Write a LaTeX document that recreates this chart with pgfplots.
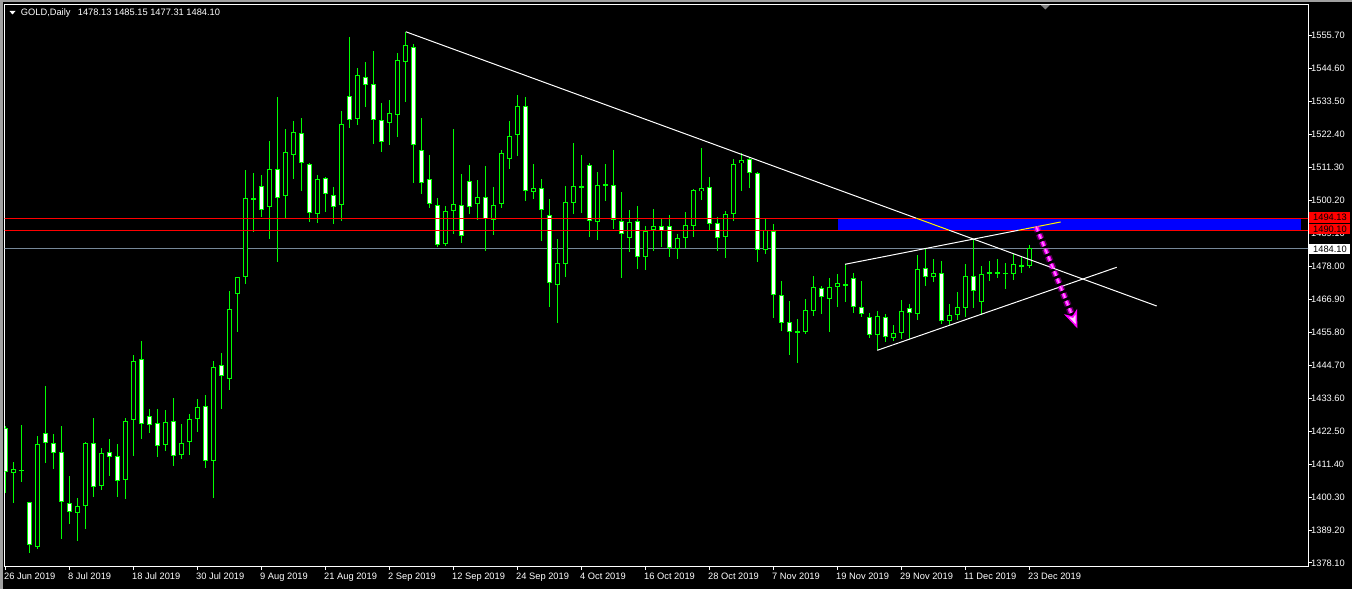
\documentclass[border=0pt]{standalone}
\usepackage{pgfplots}
\pgfplotsset{compat=1.18}
\usepackage{pgfplotstable}
\usepackage{fontspec}
\setmainfont{Liberation Sans}
\usetikzlibrary{arrows.meta}
\definecolor{cand}{HTML}{00FF00}
\definecolor{bidgray}{HTML}{778899}
\definecolor{mtmag}{HTML}{FF00FF}
\definecolor{mtblue}{HTML}{0000FF}
\definecolor{mtred}{HTML}{FF0000}
\definecolor{winborder}{HTML}{A0A0A0}

\pgfplotstableread{
i o h l c
0 1423.42 1424.21 1401.54 1408.83
1 1408.27 1412.09 1398.40 1409.62
2 1409.28 1424.54 1405.47 1409.28
3 1398.51 1398.74 1381.57 1384.04
4 1383.37 1420.84 1382.80 1418.04
5 1421.74 1437.67 1411.86 1418.37
6 1418.37 1421.51 1409.84 1415.01
7 1415.34 1424.21 1386.28 1398.51
8 1398.18 1407.38 1391.33 1395.15
9 1394.81 1399.97 1385.61 1397.17
10 1397.17 1418.82 1389.65 1418.37
11 1418.37 1426.90 1400.42 1403.56
12 1403.90 1416.80 1402.78 1415.01
13 1415.34 1419.83 1407.49 1413.66
14 1414.00 1418.15 1400.42 1405.58
15 1405.92 1426.90 1399.75 1425.78
16 1426.11 1448.10 1414.11 1445.97
17 1446.65 1452.82 1419.94 1424.77
18 1427.46 1429.93 1421.96 1424.43
19 1425.10 1429.93 1413.88 1417.36
20 1417.70 1429.59 1415.90 1425.44
21 1425.78 1433.63 1410.85 1414.00
22 1414.33 1424.88 1413.21 1418.37
23 1418.71 1428.25 1414.56 1426.45
24 1426.45 1433.29 1422.08 1430.49
25 1430.83 1434.64 1410.18 1412.31
26 1412.31 1445.97 1400.08 1443.95
27 1444.63 1448.78 1430.04 1440.92
28 1439.91 1469.53 1436.44 1463.47
29 1468.52 1474.47 1455.96 1474.25
30 1474.25 1510.37 1472.11 1500.84
31 1500.73 1509.36 1489.62 1500.73
32 1504.88 1508.69 1494.67 1496.80
33 1497.81 1520.14 1487.26 1510.60
34 1510.60 1534.95 1479.52 1500.84
35 1501.51 1524.17 1494.33 1516.32
36 1515.31 1526.87 1507.46 1523.05
37 1522.72 1527.88 1503.42 1512.62
38 1512.28 1512.62 1492.98 1495.79
39 1495.45 1508.58 1492.65 1507.23
40 1507.57 1507.91 1496.35 1502.18
41 1501.85 1504.54 1492.31 1497.81
42 1498.48 1530.12 1493.32 1525.75
43 1535.17 1555.14 1524.62 1527.09
44 1527.43 1544.71 1525.41 1542.24
45 1541.57 1546.73 1531.69 1538.87
46 1539.21 1550.43 1519.24 1527.09
47 1527.09 1532.93 1516.55 1519.69
48 1526.08 1533.94 1518.90 1529.45
49 1528.78 1549.76 1521.37 1547.40
50 1546.62 1556.90 1533.38 1552.40
51 1551.67 1552.79 1506.11 1518.68
52 1517.00 1527.77 1502.41 1505.89
53 1507.46 1515.31 1497.47 1498.82
54 1498.48 1500.84 1484.35 1485.02
55 1485.36 1498.15 1484.91 1496.46
56 1496.46 1524.18 1488.95 1498.82
57 1498.48 1509.03 1485.69 1488.05
58 1506.56 1512.06 1495.68 1497.81
59 1498.82 1507.01 1493.43 1501.18
60 1501.18 1511.72 1483.00 1493.77
61 1493.43 1504.54 1488.61 1498.48
62 1498.82 1517.00 1497.70 1515.99
63 1513.97 1526.87 1510.60 1521.71
64 1522.05 1535.62 1515.20 1531.81
65 1531.81 1534.95 1500.06 1503.20
66 1502.86 1512.28 1500.50 1504.21
67 1504.21 1507.23 1486.59 1496.80
68 1495.12 1500.50 1464.15 1472.23
69 1471.55 1487.04 1458.76 1478.96
70 1478.62 1504.88 1474.25 1499.49
71 1499.16 1519.35 1495.45 1504.88
72 1504.88 1515.31 1495.79 1504.21
73 1511.95 1512.62 1487.71 1493.10
74 1492.76 1509.59 1486.70 1505.21
75 1504.88 1512.28 1499.83 1505.55
76 1505.21 1517.00 1490.63 1493.43
77 1493.10 1502.86 1473.91 1488.72
78 1487.38 1496.80 1482.66 1492.76
79 1493.10 1498.15 1476.94 1480.98
80 1480.98 1491.41 1476.83 1489.73
81 1490.07 1497.25 1483.22 1491.64
82 1491.41 1493.88 1484.57 1489.73
83 1491.41 1495.23 1481.20 1484.01
84 1483.67 1488.83 1480.53 1487.38
85 1487.38 1496.13 1484.01 1491.75
86 1491.64 1503.87 1487.71 1503.53
87 1503.20 1517.78 1500.39 1504.21
88 1504.54 1507.91 1489.73 1492.09
89 1492.42 1494.44 1483.22 1487.38
90 1487.71 1496.46 1480.87 1495.45
91 1495.45 1513.97 1493.10 1512.28
92 1512.62 1515.99 1503.20 1513.63
93 1513.97 1514.64 1504.21 1509.25
94 1509.25 1509.59 1479.30 1483.33
95 1483.33 1493.77 1481.99 1490.07
96 1489.73 1492.09 1460.45 1468.19
97 1468.19 1472.90 1456.07 1458.76
98 1459.10 1466.17 1447.99 1455.73
99 1455.96 1460.11 1445.30 1455.96
100 1455.73 1466.84 1455.06 1463.14
101 1462.80 1474.70 1461.12 1470.88
102 1470.55 1471.22 1462.02 1467.52
103 1466.84 1473.91 1455.96 1470.88
104 1470.88 1475.37 1464.38 1472.23
105 1471.89 1478.63 1465.84 1471.22
106 1473.91 1475.59 1462.13 1464.15
107 1464.15 1472.90 1460.79 1461.80
108 1460.79 1462.13 1453.72 1454.73
109 1454.73 1462.81 1449.68 1461.12
110 1460.79 1461.80 1452.37 1454.05
111 1453.72 1458.09 1452.71 1455.40
112 1455.40 1466.51 1453.38 1462.81
113 1463.82 1465.16 1453.38 1462.13
114 1461.80 1481.66 1459.78 1476.94
115 1477.28 1484.01 1471.22 1474.25
116 1474.25 1480.31 1472.57 1475.59
117 1475.59 1479.64 1458.43 1459.44
118 1459.44 1465.16 1458.09 1461.46
119 1461.46 1469.20 1459.78 1464.15
120 1463.82 1478.63 1460.79 1474.59
121 1474.59 1487.04 1463.82 1469.54
122 1465.84 1477.95 1461.46 1475.26
123 1475.26 1479.64 1472.90 1475.93
124 1475.59 1480.31 1473.91 1475.93
125 1475.59 1478.96 1470.21 1475.59
126 1475.26 1481.99 1473.24 1478.63
127 1478.29 1480.98 1475.59 1477.62
128 1478.13 1485.15 1477.31 1484.10
}\gold

\pgfplotsset{candle/.style={only marks, mark=*, mark size=0pt, mark options={draw=none, fill=none, opacity=0},
  error bars/.cd, y dir=both, y explicit, error mark=none}}

\begin{document}
\begin{tikzpicture}
\fill[black] (0bp,0bp) rectangle (1352bp,589bp);
\useasboundingbox (0bp,0bp) rectangle (1352bp,589bp);
\fill[winborder] (0bp,0bp) rectangle (2.5bp,589bp);
\fill[winborder] (0bp,587bp) rectangle (1352bp,589bp);
\begin{axis}[
  at={(4.5bp,23bp)}, anchor=south west,
  scale only axis, width=1303.5bp, height=561.7bp,
  xmin=-0.0625, xmax=162.875, ymin=1377.09, ymax=1566.15,
  axis line style={white, line width=1bp},
  tick style={white, line width=1bp},
  tick align=outside, major tick length=4bp,
  minor tick num=0,
  xtick={0,8,...,128},
  xticklabels={26 Jun 2019, 8 Jul 2019, 18 Jul 2019, 30 Jul 2019, 9 Aug 2019, 21 Aug 2019, 2 Sep 2019, 12 Sep 2019, 24 Sep 2019, 4 Oct 2019, 16 Oct 2019, 28 Oct 2019, 7 Nov 2019, 19 Nov 2019, 29 Nov 2019, 11 Dec 2019, 23 Dec 2019},
  ytick={1378.1,1389.2,1400.3,1411.4,1422.5,1433.6,1444.7,1455.8,1466.9,1478.0,1489.1,1500.2,1511.3,1522.4,1533.5,1544.6,1555.7},
  yticklabels={1378.10,1389.20,1400.30,1411.40,1422.50,1433.60,1444.70,1455.80,1466.90,1478.00,1489.10,1500.20,1511.30,1522.40,1533.50,1544.60,1555.70},
  xtick pos=left, ytick pos=right,
  xticklabel pos=left, yticklabel pos=right,
  ticklabel style={font=\fontsize{9.3bp}{10bp}\selectfont, text=white, inner sep=0pt},
  xticklabel style={anchor=north west, xshift=-1bp, yshift=-3bp},
  yticklabel style={anchor=west, xshift=-1bp},
  clip=true,
]
% blue zone
\addplot [fill=mtblue, draw=none] coordinates {(104.125,1490.10) (162,1490.10) (162,1494.13) (104.125,1494.13)} -- cycle;
% bid line
\addplot [bidgray, line width=1bp] coordinates {(-1,1484.10) (170,1484.10)};
% wicks
\addplot [candle, error bar style={draw=cand, line width=1bp}]
  table [x=i, y expr={(\thisrow{h}+\thisrow{l})/2}, y error expr={(\thisrow{h}-\thisrow{l})/2}] {\gold};
% bodies outer
\addplot [candle, error bar style={draw=cand, line width=5bp}]
  table [x=i, y expr={(\thisrow{o}+\thisrow{c})/2}, y error expr={max(abs(\thisrow{o}-\thisrow{c})/2,0.17)}] {\gold};
% bearish inner (white)
\addplot [candle, error bar style={draw=white, line width=3bp}]
  table [x expr={(\thisrow{o}-\thisrow{c}>0.7) ? \thisrow{i} : -100}, y expr={(\thisrow{o}+\thisrow{c})/2}, y error expr={max(abs(\thisrow{o}-\thisrow{c})/2-0.337,0.01)}] {\gold};
% bullish inner (black)
\addplot [candle, error bar style={draw=black, line width=3bp}]
  table [x expr={(\thisrow{c}-\thisrow{o}>0.7) ? \thisrow{i} : -100}, y expr={(\thisrow{o}+\thisrow{c})/2}, y error expr={max(abs(\thisrow{o}-\thisrow{c})/2-0.337,0.01)}] {\gold};
% red levels
\addplot [mtred, line width=1bp] coordinates {(-1,1494.13) (170,1494.13)};
\addplot [mtred, line width=1bp] coordinates {(-1,1490.10) (170,1490.10)};
% trend lines
\addplot [white, line width=1bp] coordinates {(50.1,1556.9) (113.93,1494.13)};
\addplot [yellow, line width=1bp] coordinates {(113.93,1494.13) (118.03,1490.10)};
\addplot [white, line width=1bp] coordinates {(118.03,1490.10) (143.96,1464.6)};
\addplot [white, line width=1bp] coordinates {(105,1478.64) (126.70,1490.10)};
\addplot [yellow, line width=1bp] coordinates {(126.70,1490.10) (131.96,1492.88)};
\addplot [white, line width=1bp] coordinates {(109.04,1449.69) (138.96,1477.63)};
% arrow
\addplot [mtmag, opacity=0.3, line width=7bp, dash pattern=on 5bp off 3bp] coordinates {(128.9,1491.29) (133.29,1462.09)};
\addplot [mtmag, line width=4bp, dash pattern=on 5bp off 3bp, -{Stealth[length=18bp, width=14bp, inset=5bp, fill=white!80!mtmag, color=mtmag, line width=1.5bp]}] coordinates {(128.9,1491.29) (134.04,1457.1)};
\addplot [white!55!mtmag, line width=1.3bp, dash pattern=on 5bp off 3bp] coordinates {(128.9,1491.29) (133.29,1462.09)};
\end{axis}
% price boxes
\fill[mtred] (1309bp,366.3bp) rectangle (1350bp,376.7bp);
\fill[mtred] (1309bp,354.7bp) rectangle (1350bp,365bp);
\fill[white] (1309bp,335.3bp) rectangle (1350bp,344.7bp);
\node[anchor=west, inner sep=0pt, text=black, font=\fontsize{9.3bp}{10bp}\selectfont] at (1313bp,371.5bp) {1494.13};
\node[anchor=west, inner sep=0pt, text=black, font=\fontsize{9.3bp}{10bp}\selectfont] at (1313bp,359.8bp) {1490.10};
\node[anchor=west, inner sep=0pt, text=black, font=\fontsize{9.3bp}{10bp}\selectfont] at (1313bp,340bp) {1484.10};
% header
\fill[white] (9.5bp,578bp) -- (15.5bp,578bp) -- (12.5bp,574.5bp) -- cycle;
\node[anchor=base west, inner sep=0pt, text=white, font=\fontsize{9.3bp}{10bp}\selectfont] at (20.7bp,573bp) {GOLD,Daily};
\node[anchor=base west, inner sep=0pt, text=white, font=\fontsize{9.3bp}{10bp}\selectfont] at (77.7bp,573bp) {1478.13 1485.15 1477.31 1484.10};
% chart shift marker
\fill[gray] (1040.7bp,584bp) -- (1050bp,584bp) -- (1045.3bp,579.5bp) -- cycle;
\end{tikzpicture}
\end{document}
